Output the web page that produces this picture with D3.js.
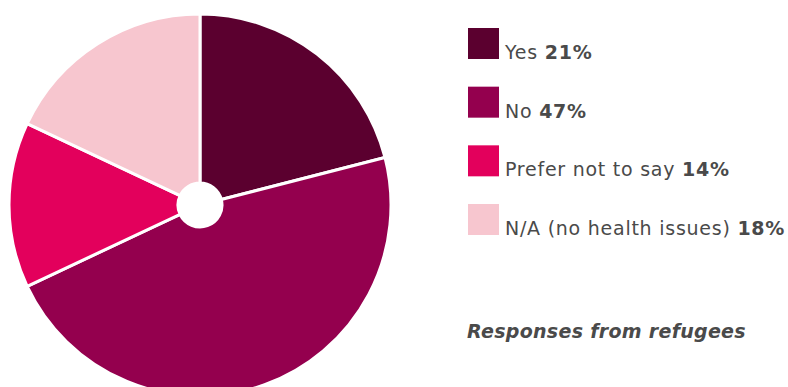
<!DOCTYPE html>
<html>
<head>
<meta charset="utf-8">
<script src="https://cdn.jsdelivr.net/npm/d3@7"></script>
<style>
  html, body { margin: 0; padding: 0; background: #fff; }
  svg { display: block; }
  text { font-family: "DejaVu Sans", "Noto Sans", sans-serif; fill: #4a4a4a; }
</style>
</head>
<body>
<svg id="chart" width="788" height="387"></svg>
<script>
// Survey answers and their shares (%)
const categories = ["Yes", "No", "Prefer not to say", "N/A (no health issues)"];
const values = [21, 47, 14, 18];
const colors = ["#5b002f", "#94004e", "#e3005c", "#f7c6cf"];
const note = "Responses from refugees";

const svg = d3.select("#chart");
const cx = 200, cy = 205, outerR = 191, innerR = 22;

const pie = d3.pie().sort(null).value(d => d)(values);
const arc = d3.arc().innerRadius(innerR).outerRadius(outerR);

svg.append("g")
  .attr("transform", `translate(${cx},${cy})`)
  .selectAll("path")
  .data(pie)
  .join("path")
  .attr("d", arc)
  .attr("fill", (d, i) => colors[i])
  .attr("stroke", "#fff")
  .attr("stroke-width", 3)
  .attr("stroke-linejoin", "round");

// Legend
const y = d3.scalePoint().domain(categories).range([28, 204]);
const legend = svg.append("g")
  .selectAll("g")
  .data(categories)
  .join("g")
  .attr("transform", d => `translate(468,${y(d)})`);

legend.append("rect")
  .attr("width", 31).attr("height", 31)
  .attr("fill", (d, i) => colors[i]);

const label = legend.append("text")
  .attr("x", 37).attr("y", 31)
  .attr("font-size", 19)
  .attr("letter-spacing", 0.75);
label.append("tspan").text(d => d + " ");
label.append("tspan").attr("font-weight", 700).text((d, i) => values[i] + "%");

svg.append("text")
  .attr("x", 467).attr("y", 338)
  .attr("font-size", 19)
  .attr("font-weight", 700)
  .attr("font-style", "italic")
  .attr("letter-spacing", 0.3)
  .text(note);
</script>
</body>
</html>
